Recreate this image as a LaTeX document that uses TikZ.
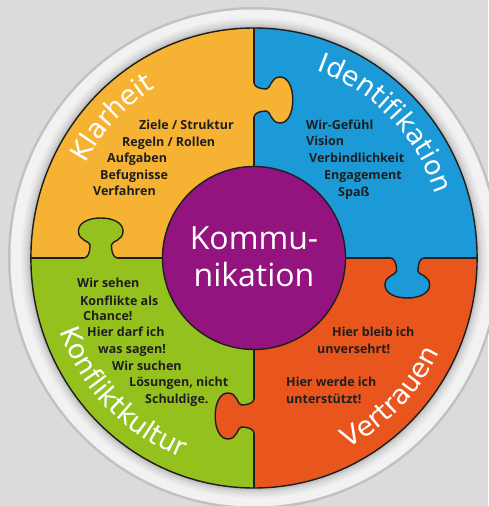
\documentclass[tikz,border=0pt]{standalone}
\usepackage{fontspec}
\setmainfont{Open Sans}
\newfontfamily\labelfam{DejaVu Sans}
\usetikzlibrary{decorations.text}
\definecolor{bg}{HTML}{DBDBDB}
\definecolor{rim}{HTML}{F2F2F2}
\definecolor{kyel}{HTML}{F6B233}
\definecolor{kblue}{HTML}{1B9AD7}
\definecolor{kgreen}{HTML}{95C11F}
\definecolor{korange}{HTML}{E8561D}
\definecolor{kpurple}{HTML}{93147F}
\definecolor{ink}{HTML}{1E1E1E}
\newcommand\labelfont{\labelfam\fontsize{27}{27}\selectfont\color{white}}
\begin{document}
\begin{tikzpicture}[x=1pt,y=1pt,
  outl/.style={draw=ink, line width=1.4pt},
  body/.style={font=\bfseries\fontsize{12.5}{14}\selectfont, text=ink, inner sep=0pt, anchor=base west},
  centertext/.style={font=\fontsize{32}{32}\selectfont, text=white, inner sep=0pt, anchor=base},
  tabcurve/.style={insert path={.. controls (-13,0.5) and (-11,6) .. (-11,13) .. controls (-11,17) and (-23,17) .. (-23,27) .. controls (-23,35) and (-13,40) .. (0,40) .. controls (13,40) and (23,35) .. (23,27) .. controls (23,17) and (11,17) .. (11,13) .. controls (11,6) and (13,0.5) .. (17,0)}},
  lbl/.style={decorate, decoration={text along path, text align=center, text={|\labelfont|#1}}}
]
\useasboundingbox (-254,-248) rectangle (234,258);
\fill[bg] (-254,-248) rectangle (234,258);
% rim
\fill[bg!80!black!60!bg] (0,0) ellipse[x radius=246, y radius=251];
\fill[rim] (0,0) ellipse[x radius=243.5, y radius=248.5];
\foreach \d/\s in {10/3,8/6,6/10,4/14,2.5/19,1.2/24}{
  \fill[black!\s!rim] (0,0) ellipse[x radius={223+\d}, y radius={230+\d}];
}
% sectors
\begin{scope}[xscale=0.97]
  \fill[kyel] (0,0) -- (180:230) arc[start angle=180,end angle=90,radius=230] -- cycle;
  \fill[kblue] (0,0) -- (90:230) arc[start angle=90,end angle=0,radius=230] -- cycle;
  \fill[korange] (0,0) -- (0:230) arc[start angle=0,end angle=-90,radius=230] -- cycle;
  \fill[kgreen] (0,0) -- (-90:230) arc[start angle=270,end angle=180,radius=230] -- cycle;
  \draw[outl] (-230,0) -- (230,0) (0,-230) -- (0,230);
  \draw[outl] (0,0) circle[radius=230];
  % tabs
  \begin{scope}[shift={(-158,0)}]
    \fill[kgreen] (-17,-2.5) -- (-17,0) [tabcurve] -- (17,-2.5) -- cycle;
    \draw[outl] (-17,0) [tabcurve];
  \end{scope}
  \begin{scope}[rotate=-90, shift={(-158,0)}]
    \fill[kyel] (-17,-2.5) -- (-17,0) [tabcurve] -- (17,-2.5) -- cycle;
    \draw[outl] (-17,0) [tabcurve];
  \end{scope}
  \begin{scope}[rotate=180, shift={(-158,0)}]
    \fill[kblue] (-17,-2.5) -- (-17,0) [tabcurve] -- (17,-2.5) -- cycle;
    \draw[outl] (-17,0) [tabcurve];
  \end{scope}
  \begin{scope}[rotate=90, shift={(-158,0)}]
    \fill[korange] (-17,-2.5) -- (-17,0) [tabcurve] -- (17,-2.5) -- cycle;
    \draw[outl] (-17,0) [tabcurve];
  \end{scope}
\end{scope}
% centre
\node[circle, minimum size=183pt, inner sep=0pt, fill=kpurple, outl] (komm) at (0,0) {};
\node[centertext] (komm1) at (0,8) {Kommu-};
\node[centertext] (komm2) at (0,-29) {nikation};
% curved labels
\path[lbl=Klarheit] (165:192pt and 198pt) arc[start angle=165, end angle=107, x radius=192pt, y radius=198pt];
\path[lbl=Identifikation] (80:192pt and 198pt) arc[start angle=80, end angle=10, x radius=192pt, y radius=198pt];
\path[lbl=Konfliktkultur] (188:207pt and 213pt) arc[start angle=188, end angle=262, x radius=207pt, y radius=213pt];
\path[lbl=Vertrauen] (285:207pt and 213pt) arc[start angle=285, end angle=345, x radius=207pt, y radius=213pt];
% Klarheit list
\node[body] (k1) at (-115,128) {Ziele / Struktur};
\node[body] (k2) at (-132,111) {Regeln / Rollen};
\node[body] (k3) at (-147,95) {Aufgaben};
\node[body] (k4) at (-154,78) {Befugnisse};
\node[body] (k5) at (-161,62) {Verfahren};
% Identifikation list
\node[body] (i1) at (52,128) {Wir-Gefühl};
\node[body] (i2) at (52,112) {Vision};
\node[body] (i3) at (55,95) {Verbindlichkeit};
\node[body] (i4) at (70,78) {Engagement};
\node[body] (i5) at (84,61) {Spaß};
% Konfliktkultur list
\node[body] (f1) at (-177,-30) {Wir sehen};
\node[body] (f2) at (-174,-47) {Konflikte als};
\node[body] (f3) at (-171,-63) {Chance!};
\node[body] (f4) at (-167,-78) {Hier darf ich};
\node[body] (f5) at (-156,-95) {was sagen!};
\node[body] (f6) at (-142,-112) {Wir suchen};
\node[body] (f7) at (-125,-128) {Lösungen, nicht};
\node[body] (f8) at (-109,-145) {Schuldige.};
% Vertrauen list
\node[body] (v1) at (78,-78) {Hier bleib ich};
\node[body] (v2) at (63,-95) {unversehrt!};
\node[body] (v3) at (32,-128) {Hier werde ich};
\node[body] (v4) at (32,-145) {unterstützt!};
\end{tikzpicture}
\end{document}
